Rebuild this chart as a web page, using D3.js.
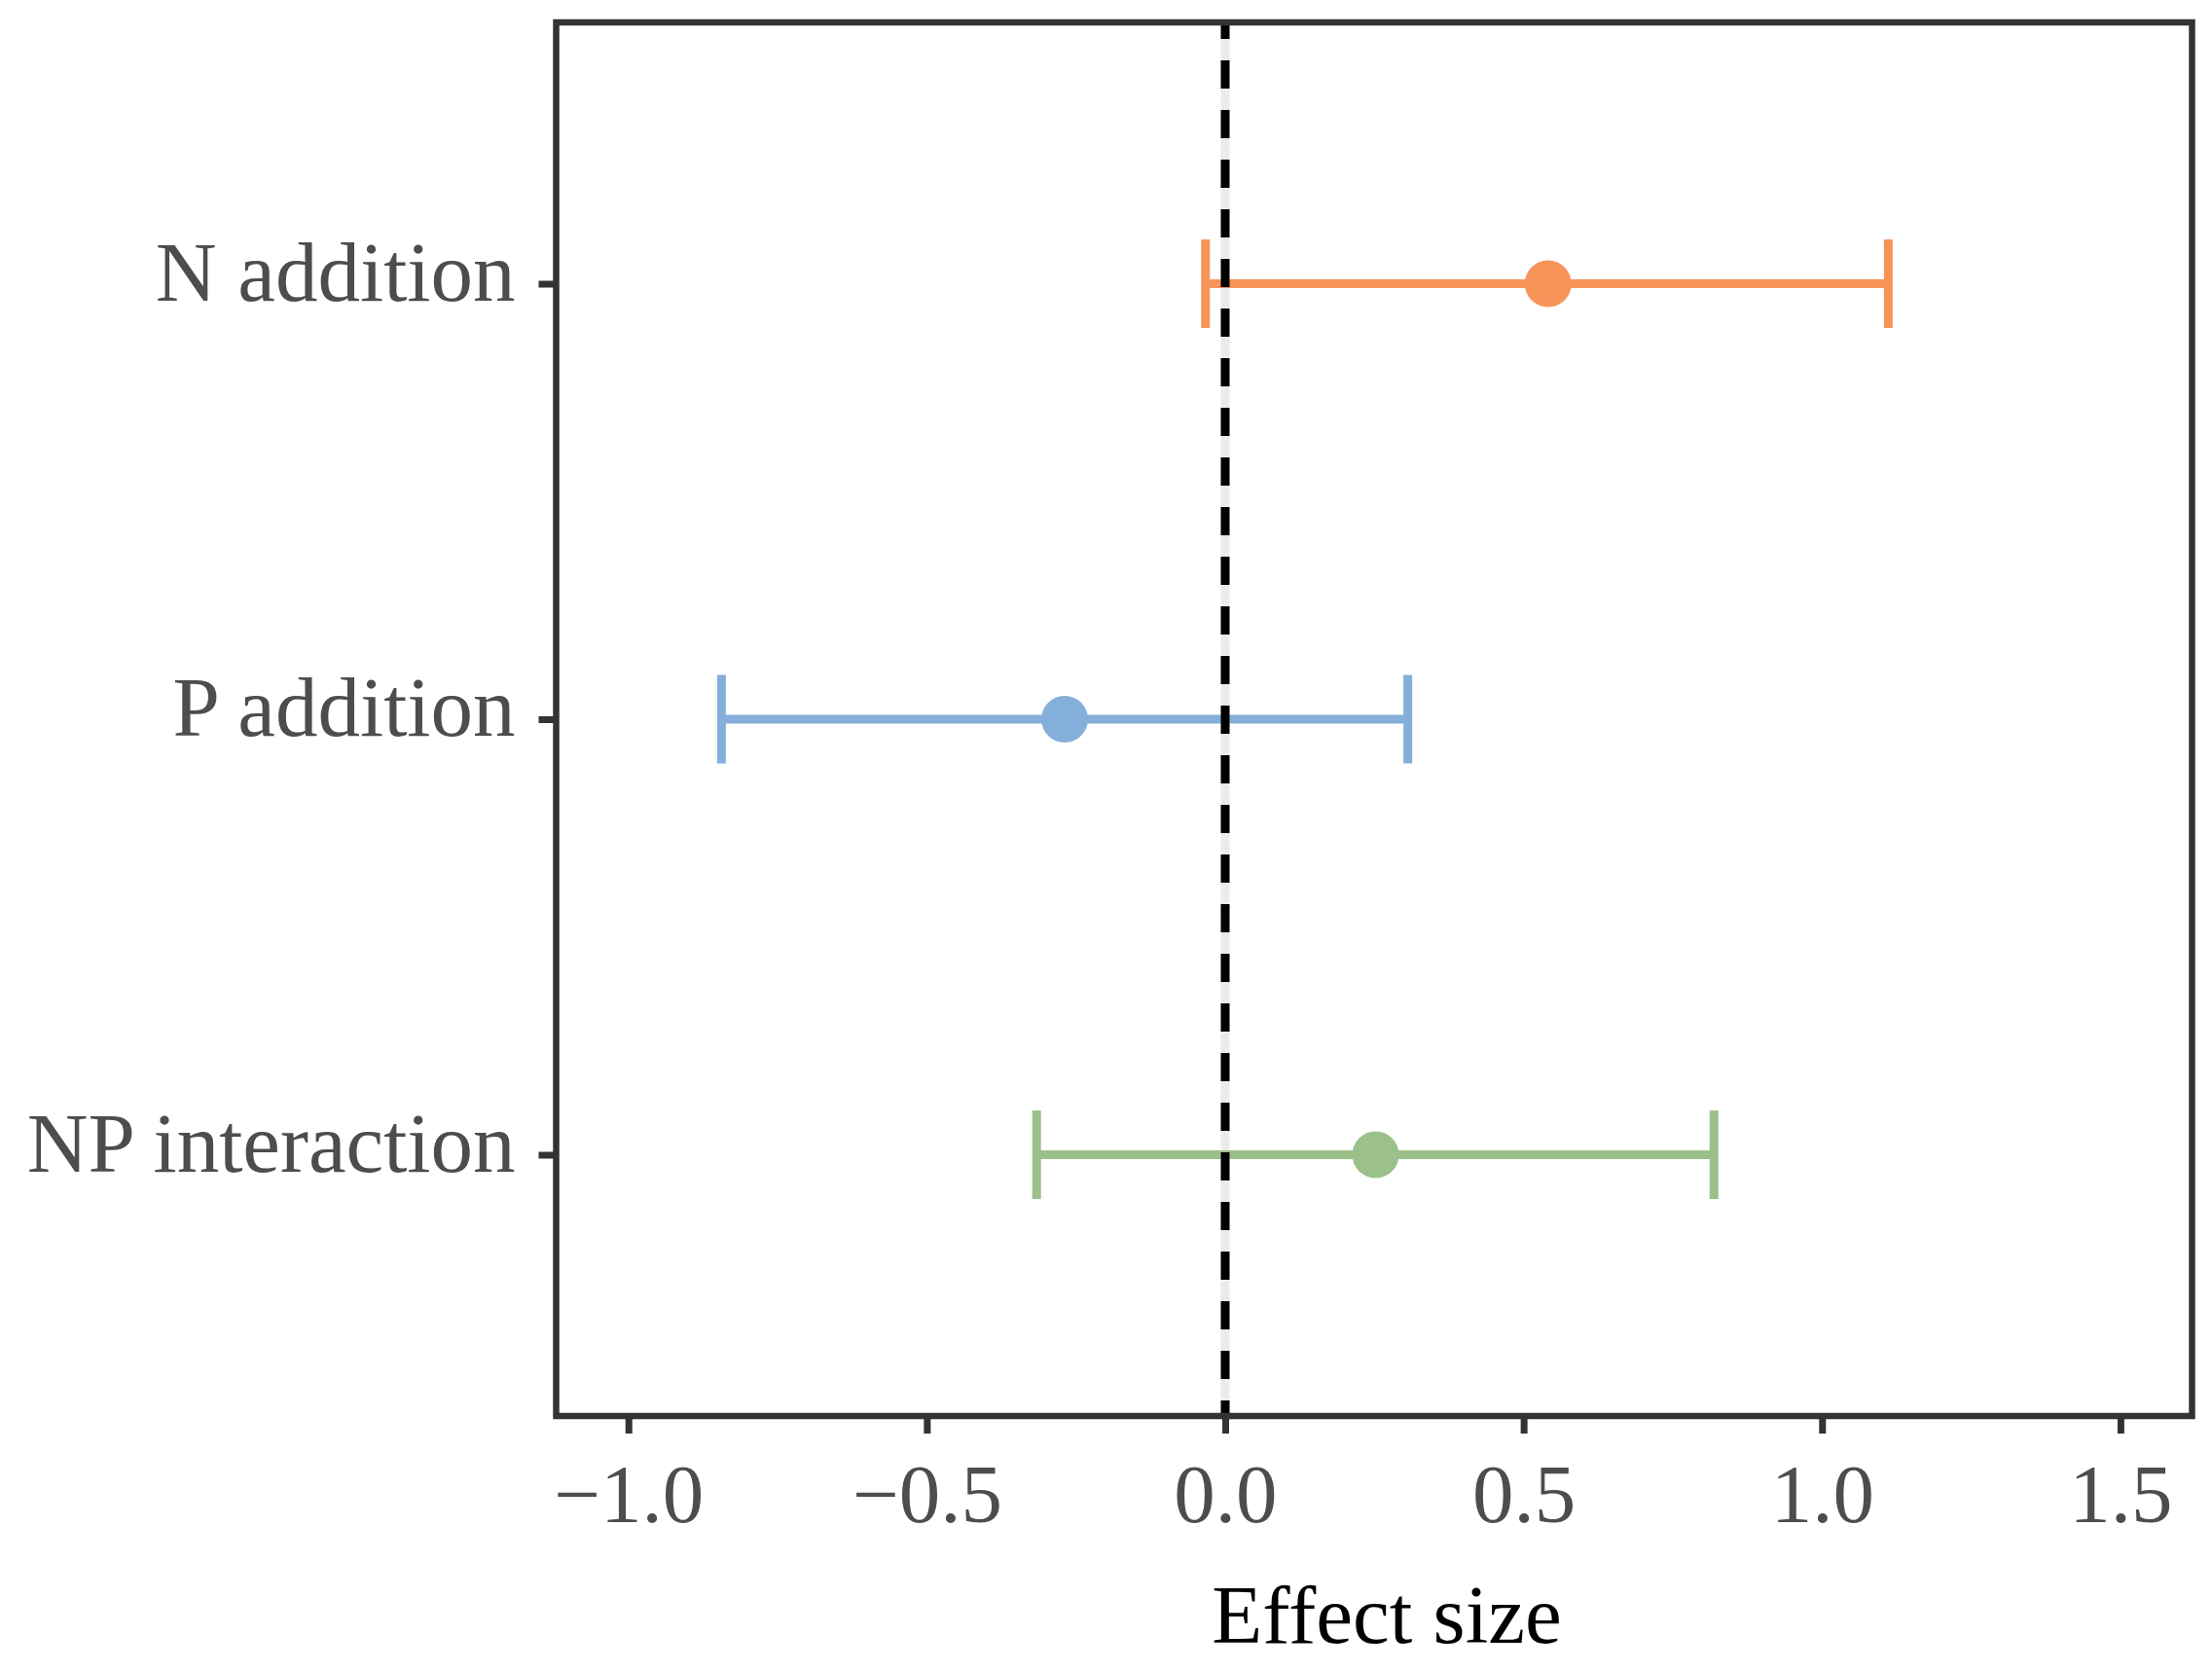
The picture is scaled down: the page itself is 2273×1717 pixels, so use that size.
<!DOCTYPE html>
<html>
<head>
<meta charset="utf-8">
<script src="https://cdn.jsdelivr.net/npm/d3@7"></script>
<style>
  body { margin: 0; background: #fff; }
  svg text { font-family: "Liberation Serif", "Times New Roman", serif; }
</style>
</head>
<body>
<div id="chart"></div>
<script>
// data
const treatments = ["N addition", "P addition", "NP interaction"]
const effectMean = [0.541, -0.269, 0.252]
const ciLower = [-0.033, -0.844, -0.316]
const ciUpper = [1.111, 0.306, 0.819]
const treatmentColors = ["#F79459", "#84AFDA", "#9CC08A"]
const xTicks = [-1.0, -0.5, 0.0, 0.5, 1.0, 1.5]

const rows = treatments.map((t, i) => ({
  name: t,
  mean: effectMean[i],
  lo: ciLower[i],
  hi: ciUpper[i],
  color: treatmentColors[i]
}))

const dimensions = {
  width: 2273,
  height: 1717,
  panel: { left: 571.5, right: 2252.5, top: 23, bottom: 1455 },
  pointRadius: 24,
  capHalf: 45.5,
  barWidth: 9,
}

const svg = d3.select("#chart")
  .append("svg")
    .attr("width", dimensions.width)
    .attr("height", dimensions.height)

// scales
const xScale = d3.scaleLinear()
  .domain([-1.121, 1.620])
  .range([dimensions.panel.left, dimensions.panel.right])

const yScale = d3.scalePoint()
  .domain(treatments)
  .range([dimensions.panel.top, dimensions.panel.bottom])
  .padding(0.6)

// panel background
svg.append("rect")
  .attr("x", dimensions.panel.left)
  .attr("y", dimensions.panel.top)
  .attr("width", dimensions.panel.right - dimensions.panel.left)
  .attr("height", dimensions.panel.bottom - dimensions.panel.top)
  .attr("fill", "#fff")

// light reference stripe under everything
svg.append("line")
  .attr("x1", xScale(0)).attr("x2", xScale(0))
  .attr("y1", dimensions.panel.top).attr("y2", dimensions.panel.bottom)
  .attr("stroke", "#ebebeb")
  .attr("stroke-width", 9)

// error bars
const bars = svg.append("g").selectAll("g")
  .data(rows)
  .join("g")

bars.append("path")
  .attr("d", d => {
    const y = yScale(d.name)
    const x0 = xScale(d.lo), x1 = xScale(d.hi)
    return `M${x0},${y - dimensions.capHalf}V${y + dimensions.capHalf}` +
      `M${x0},${y}H${x1}` +
      `M${x1},${y - dimensions.capHalf}V${y + dimensions.capHalf}`
  })
  .attr("fill", "none")
  .attr("stroke", d => d.color)
  .attr("stroke-width", dimensions.barWidth)

bars.append("circle")
  .attr("cx", d => xScale(d.mean))
  .attr("cy", d => yScale(d.name))
  .attr("r", dimensions.pointRadius)
  .attr("fill", d => d.color)

// dashed zero line on top
svg.append("line")
  .attr("x1", xScale(0)).attr("x2", xScale(0))
  .attr("y1", dimensions.panel.top).attr("y2", dimensions.panel.bottom)
  .attr("stroke", "#000")
  .attr("stroke-width", 9)
  .attr("stroke-dasharray", "29,22")
  .attr("stroke-dashoffset", 12)

// axes
const xAxis = svg.append("g")
  .attr("transform", `translate(0,${dimensions.panel.bottom})`)
  .call(d3.axisBottom(xScale)
    .tickValues(xTicks)
    .tickFormat(d => d3.format(".1f")(d).replace("-", "\u2212"))
    .tickSize(18)
    .tickPadding(31))

const yAxis = svg.append("g")
  .attr("transform", `translate(${dimensions.panel.left},0)`)
  .call(d3.axisLeft(yScale)
    .tickSize(18)
    .tickPadding(24))

;[xAxis, yAxis].forEach(ax => {
  ax.select(".domain").remove()
  ax.selectAll(".tick line")
    .attr("stroke", "#333333")
    .attr("stroke-width", 7)
  ax.selectAll(".tick text")
    .attr("fill", "#4d4d4d")
    .style("font-size", "85px")
})
yAxis.selectAll(".tick text")
  .attr("dy", "0.19em")
  .style("font-size", "87px")

// panel border
svg.append("rect")
  .attr("x", dimensions.panel.left)
  .attr("y", dimensions.panel.top)
  .attr("width", dimensions.panel.right - dimensions.panel.left)
  .attr("height", dimensions.panel.bottom - dimensions.panel.top)
  .attr("fill", "none")
  .attr("stroke", "#333333")
  .attr("stroke-width", 6.5)

// axis title
svg.append("text")
  .attr("x", 1425)
  .attr("y", 1688)
  .attr("text-anchor", "middle")
  .attr("fill", "#000")
  .style("font-size", "85px")
  .text("Effect size")
</script>
</body>
</html>
